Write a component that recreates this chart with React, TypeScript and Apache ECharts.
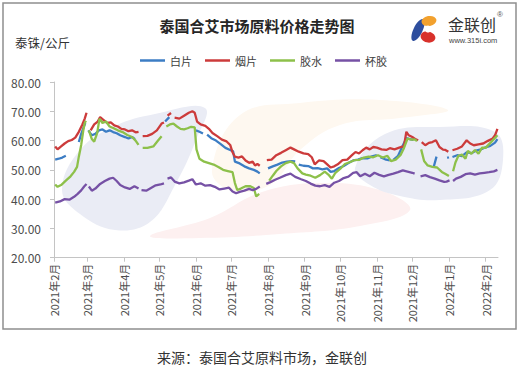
import React, { useEffect, useRef } from "react";
import * as echarts from "echarts";

type P = [number, number | null];

// Day offsets from 2021-02-01 for the month ticks, and their labels
const monthDays = [0, 28, 59, 89, 120, 150, 181, 212, 242, 273, 303, 334, 365];
const monthLabels = [
  "2021年2月", "2021年3月", "2021年4月", "2021年5月", "2021年6月", "2021年7月",
  "2021年8月", "2021年9月", "2021年10月", "2021年11月", "2021年12月", "2022年1月", "2022年2月",
];
const seriesNames = ["白片", "烟片", "胶水", "杯胶"];
const seriesColors = ["#3C7DC4", "#CC3B3B", "#8DC04A", "#7651A5"];

// [day offset from 2021-02-01, price] ; null = gap
const baiPian: P[] = [
  [1, 53.5], [4, 53.8], [7, 54.2], [10, 54.8], [11, null],
  [21, 59.5], [23, 62.3], [25, 64.5], [26.5, 66], [27, null],
  [29, 63.5], [32, 61.8], [35, 62.3], [38, 63.5], [41, 63.8], [44, 63], [47, 63.5], [50, 62.9], [53, 62.5], [56, 61.8], [60, 61.2], [63, 60.7], [66, 61.2], [68.5, 60.5], [70, null],
  [94, 66.5], [97.5, 68], [98, null],
  [120, 63.5], [123, 63], [126, 62.4], [127, null],
  [129.5, 62], [133, 60.8], [137, 60], [141, 58.8], [145, 57.5], [149, 56.8], [151.5, 56.3], [153, 52.8], [157, 52.2], [161, 51.2], [165, 50.5], [169, 50], [172, 49.4], [174, 48.8], [175, null],
  [181, 50.5], [185, 51.2], [189, 51.8], [193, 52.5], [197, 52.8], [201, 53], [204, 52.9], [205, null],
  [207, 51.8], [211, 51.4], [215, 51.3], [219, 50.5], [223, 50.6], [227, 50.2], [231, 50.5], [234, 49.3], [237, 49.6], [241, 50.6], [245, 51.3], [249, 52.3], [253, 53.2], [257, 53.5], [261, 54], [265, 53.9], [269, 54.6], [273, 55], [274, null],
  [276, 54.3], [280, 53.6], [284, 53.2], [285, null],
  [287, 53.4], [291, 54.8], [295, 58.3], [298, 60.8], [301, 60.5], [304, 60.2], [305, null],
  [321, 50.8], [323.5, 54.5], [324, null],
  [332.5, 54.1], [334, 54.3], [335, null],
  [337, 54.4], [341, 55], [345, 54.7], [349, 56], [353, 55.7], [357, 56.6], [361, 57], [365, 57.7], [369, 58.2], [373, 59.3], [375, 60.5],
];

const yanPian: P[] = [
  [1, 58], [3, 57], [6, 58], [9, 59], [12, 59.8], [15, 60.2], [18, 61], [21, 63], [24, 65.5], [26, 67.5], [27.5, 69.5], [28.5, null],
  [31, 63.5], [34, 65.5], [37, 66.5], [39, 68], [42, 67], [45, 66], [48, 66.2], [51, 65.2], [54, 64.8], [57, 64], [60, 63.8], [63, 63.2], [66, 63.5], [69, 62.8], [71.5, 63], [73, null],
  [75, 61.5], [79, 61.6], [83, 62.3], [87, 63.5], [91, 65.8], [93, 66.2], [94, null],
  [96, 68.5], [99, 69.4], [100, null],
  [102, 67.8], [106, 67.5], [110, 68.5], [114, 69.5], [117, 70], [119, 69.5], [121, 66.5], [124, 65.5], [128, 65], [131, 64], [134, 62.6], [138, 61.5], [142, 60.3], [146, 59.7], [149, 58.5], [151, 56], [153, 54.5], [156, 54.2], [159, 54.6], [162, 53.2], [165, 52.4], [168, 52.8], [170, 51.5], [172, 52], [174, 51.4], [175, null],
  [180, 53.3], [184, 53.5], [188, 55], [192, 55.8], [196, 56.7], [200, 57.6], [203, 57], [207, 56.2], [211, 55.6], [215, 55.4], [218, 54.3], [220.5, 51.9], [224, 53.2], [228, 53], [232, 51.5], [234, 50.8], [237, 51.2], [240, 51.9], [244, 53.3], [248, 53.5], [252, 55], [255, 56.1], [258, 55.6], [261, 56.7], [264, 57.6], [267, 57], [270, 57.8], [273, 57.6], [277, 57], [281, 56.8], [284, 57.4], [288, 57], [292, 57.6], [296, 58.1], [298, 63], [300, 61.8], [303, 61.2], [306, 60.4], [308, 60.1], [309, null],
  [311, 59.5], [314, 58.4], [317, 59.2], [320, 59.5], [323, 60.1], [326, 57.8], [329, 56.9], [331, 56.8], [333.5, 56.2], [334.5, null],
  [337, 56.7], [341, 57.2], [345, 58], [349, 60.1], [352, 59], [355, 58.4], [359, 58.7], [363, 59], [367, 59.9], [371, 60.7], [373, 61.8], [375, 64],
];

const jiaoShui: P[] = [
  [1, 45], [3, 44.2], [6, 44.8], [10, 46.3], [14, 47.8], [17, 49.3], [19.5, 51], [21, 54.5], [23, 58.5], [24.8, 63.5], [26, 66], [27, 66.8], [28, null],
  [29.5, 63.5], [32, 60.5], [34, 59.6], [36.5, 62.5], [38.5, 67.5], [41, 66], [44, 66.5], [47, 64.8], [50, 64.3], [54, 63.5], [58, 62.9], [62, 61.9], [66, 61.2], [69, 60], [71.5, 58.5], [73, null],
  [75, 57.5], [79, 57.5], [84, 58], [88, 60], [91, 61.5], [93, null],
  [95, 64.8], [98, 65.5], [101, 65.8], [104, 64.8], [107, 64], [110, 63.8], [113, 64.2], [116, 64.7], [119, 64.5], [120.5, 57], [123, 53.8], [127, 52.8], [131, 52.3], [135, 51.8], [139, 51], [143, 50], [147, 49.6], [151, 49.2], [153, 45.5], [155, 43.1], [158, 43.6], [162, 44.4], [166, 44.4], [169, 43.8], [171, 40.9], [173.5, 41.8], [175, null],
  [182, 46.3], [185, 48], [188, 49.6], [192, 51.2], [196, 52.3], [200, 52.8], [203, 52.3], [206, 50.5], [210, 48.8], [213, 48.4], [217, 48], [221, 47.3], [225, 48.2], [229, 49.4], [232, 48.4], [235, 47], [238, 49], [242, 50.3], [246, 52], [250, 52.6], [254, 53.3], [258, 53.4], [262, 54.2], [266, 54.5], [270, 54.3], [274, 55], [278, 54.2], [282, 54.8], [285, 53], [289, 53.5], [293, 55], [296, 57.5], [299, 60.7], [302, 60.3], [305, 60.4], [307, 59.8], [309, null],
  [310.5, 57], [313, 53], [316, 51.5], [320, 51], [324, 50.8], [328, 49.3], [331.5, 48.5], [334, 47.9], [335.5, null],
  [337.5, 49.5], [339.5, 52.5], [342, 54.8], [345, 55.2], [348, 53.8], [350, 56.5], [353, 55.5], [356, 56.8], [359, 55.5], [362, 57.6], [365, 57.5], [369, 59.2], [372, 60.5], [375, 61.8],
];

const beiJiao: P[] = [
  [1, 38.8], [5, 39.2], [9, 40], [13, 39.8], [17, 40.8], [20, 41.8], [23, 43], [25.5, 44.3], [27.5, 45.2], [28.5, null],
  [29.5, 44.3], [32, 42.9], [35, 43.6], [39, 45.2], [43, 46.2], [47, 47], [50, 47.3], [53, 46.2], [56, 44.8], [60, 44], [64, 43.5], [68, 44.4], [71.5, 43.6], [72.5, null],
  [74, 43.1], [78, 42.9], [82, 43.8], [86, 44.7], [90, 45], [93, 45.4], [94.5, null],
  [96, 47], [99, 47.4], [102, 46], [106, 45.4], [110, 45.7], [114, 46.3], [117, 46.8], [120, 45], [124, 45.4], [128, 44.6], [132, 44.8], [136, 44.2], [140, 43.3], [144, 43.6], [148, 43.9], [151, 42.6], [154, 42], [157, 42.5], [161, 42.9], [165, 43.5], [168, 43.1], [171, 43.5], [174, 44.3], [175, null],
  [179.5, 45.2], [183, 45.8], [187, 46.6], [191, 47.3], [196, 48.2], [200, 48.7], [204, 47.6], [209, 46.8], [213, 46.2], [217, 45.3], [221, 44.6], [225, 44.4], [229, 44.8], [233, 44.2], [237, 45.6], [241, 46.2], [245, 47.2], [249, 47.7], [253, 49], [256, 49.2], [259, 47.8], [263, 48.7], [267, 47.8], [271, 49], [275, 48.3], [279, 47.8], [283, 48.3], [287, 48.7], [291, 49.2], [295, 49.8], [299, 49.4], [303, 49], [305, 48.7], [307, null],
  [310, 47.8], [314, 48.2], [318, 47.5], [322, 47], [326, 46.4], [330, 45.9], [332, 46], [334.5, 46.4], [335.5, null],
  [337.5, 46.2], [340, 47], [344, 47.6], [348, 48.5], [352, 48.8], [356, 48.4], [360, 48.8], [364, 49], [368, 49.2], [372, 49.5], [375, 50],
];

const yTicks = { min: 20, max: 80, interval: 10 };

export default function App() {
  const ref = useRef<HTMLDivElement>(null);
  useEffect(() => {
    if (!ref.current) return;
    const chart = echarts.init(ref.current, null, { renderer: "svg" });
    const all = [baiPian, yanPian, jiaoShui, beiJiao];
    const font = "'Noto Sans CJK SC', 'Noto Sans', sans-serif";
    chart.setOption({
      animation: false,
      backgroundColor: "#ffffff",
      textStyle: { fontFamily: font },
      grid: { left: 54, right: 31, top: 82, bottom: 115.3 },
      legend: {
        left: 135,
        top: 50,
        icon: "rect",
        itemWidth: 25,
        itemHeight: 2.5,
        itemGap: 13,
        textStyle: { fontSize: 11, color: "#404040", fontFamily: font },
        data: seriesNames,
      },
      xAxis: {
        type: "value",
        min: 0,
        max: 375.5,
        splitLine: { show: false },
        axisLine: { show: true, lineStyle: { color: "#c4c4c4", width: 1 } },
        axisTick: { show: true, customValues: monthDays, length: 4, lineStyle: { color: "#c4c4c4" } },
        axisLabel: {
          customValues: monthDays,
          rotate: 90,
          fontSize: 11,
          color: "#4d4d4d",
          margin: 6,
          formatter: (v: number) => {
            const i = monthDays.indexOf(Math.round(v));
            return i >= 0 ? monthLabels[i] : "";
          },
        },
      },
      yAxis: {
        type: "value",
        min: yTicks.min,
        max: yTicks.max,
        interval: yTicks.interval,
        splitLine: { show: false },
        axisLine: { show: true, lineStyle: { color: "#c4c4c4", width: 1 } },
        axisTick: { show: true, length: 4, lineStyle: { color: "#c4c4c4" } },
        axisLabel: {
          fontSize: 12,
          color: "#4d4d4d",
          margin: 13,
          formatter: (v: number) => v.toFixed(2),
        },
      },
      series: seriesNames.map((name, i) => ({
        name,
        type: "line",
        data: all[i],
        showSymbol: false,
        connectNulls: false,
        z: 3,
        color: seriesColors[i],
        lineStyle: { width: 2.3, color: seriesColors[i] },
      })),
      graphic: [
        // faint watermark shapes
        {
          type: "polygon",
          z: 0,
          silent: true,
          shape: {
            points: [[62, 190], [80, 150], [115, 126], [155, 114], [205, 108], [196, 140], [175, 185], [150, 222], [115, 230], [80, 214]],
            smooth: 0.4,
          },
          style: { fill: "#eaecf5" },
        },
        {
          type: "polygon",
          z: 0,
          silent: true,
          shape: {
            points: [[212, 170], [240, 115], [300, 103], [380, 100], [448, 110], [400, 118], [340, 125], [300, 150], [270, 185], [230, 190]],
            smooth: 0.4,
          },
          style: { fill: "#fef8f0" },
        },
        {
          type: "polygon",
          z: 0,
          silent: true,
          shape: {
            points: [[150, 236], [210, 218], [262, 192], [320, 183], [380, 190], [410, 210], [360, 226], [280, 234], [200, 238]],
            smooth: 0.4,
          },
          style: { fill: "#fdf0f0" },
        },
        {
          type: "polygon",
          z: 0,
          silent: true,
          shape: {
            points: [[355, 168], [385, 134], [440, 127], [495, 132], [503, 160], [490, 190], [440, 200], [400, 196], [370, 185]],
            smooth: 0.4,
          },
          style: { fill: "#eaecf5" },
        },
        // frame
        {
          type: "rect",
          z: 10,
          silent: true,
          shape: { x: 3, y: 3, width: 513, height: 326 },
          style: { fill: "none", stroke: "#8f8f8f", lineWidth: 1.5 },
        },
        // title
        {
          type: "text",
          z: 10,
          x: 257,
          y: 25,
          style: {
            text: "泰国合艾市场原料价格走势图",
            fontSize: 15,
            fontWeight: "bold",
            fill: "#262626",
            align: "center",
            verticalAlign: "middle",
            fontFamily: font,
          },
        },
        // unit
        {
          type: "text",
          z: 10,
          x: 15,
          y: 42,
          style: {
            text: "泰铢/公斤",
            fontSize: 12.5,
            fill: "#333333",
            align: "left",
            verticalAlign: "middle",
            fontFamily: font,
          },
        },
        // logo
        {
          type: "ellipse",
          z: 10,
          x: 418,
          y: 30,
          rotation: -0.45,
          shape: { cx: 0, cy: 0, rx: 4.5, ry: 12 },
          style: { fill: "#2E4E9E" },
        },
        {
          type: "ellipse",
          z: 10,
          x: 429,
          y: 21,
          rotation: 0.2,
          shape: { cx: 0, cy: 0, rx: 7.5, ry: 5 },
          style: { fill: "#F2A12E" },
        },
        {
          type: "ellipse",
          z: 10,
          x: 428,
          y: 37,
          rotation: -0.25,
          shape: { cx: 0, cy: 0, rx: 7.5, ry: 5.5 },
          style: { fill: "#D8312B" },
        },
        {
          type: "circle",
          z: 11,
          x: 428,
          y: 29,
          shape: { cx: 0, cy: 0, r: 3.5 },
          style: { fill: "#ffffff" },
        },
        {
          type: "text",
          z: 10,
          x: 448,
          y: 24,
          style: {
            text: "金联创",
            fontSize: 16,
            lineHeight: 16,
            fill: "#333333",
            align: "left",
            verticalAlign: "middle",
            fontFamily: font,
          },
        },
        {
          type: "text",
          z: 10,
          x: 497,
          y: 14,
          style: { text: "®", fontSize: 8, fill: "#555555", align: "left", verticalAlign: "middle" },
        },
        {
          type: "text",
          z: 10,
          x: 449,
          y: 40,
          style: {
            text: "www.315i.com",
            fontSize: 7.5,
            lineHeight: 8,
            fill: "#444444",
            align: "left",
            verticalAlign: "middle",
            fontFamily: "'Liberation Sans', Arial, sans-serif",
          },
        },
        // source caption
        {
          type: "text",
          z: 10,
          x: 262,
          y: 357,
          style: {
            text: "来源：泰国合艾原料市场，金联创",
            fontSize: 14,
            fill: "#333333",
            align: "center",
            verticalAlign: "middle",
            fontFamily: font,
          },
        },
      ],
    });
    return () => chart.dispose();
  }, []);
  return (
    <div
      ref={ref}
      style={{ position: "fixed", left: 0, top: 0, width: 529, height: 373, background: "#fff" }}
    />
  );
}
